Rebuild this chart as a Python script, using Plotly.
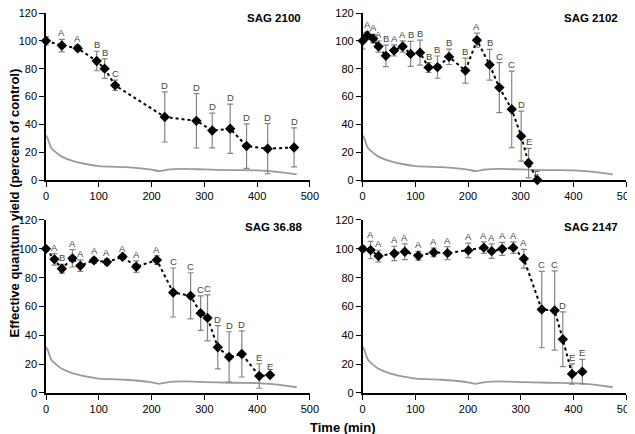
import plotly.graph_objects as go
from plotly.subplots import make_subplots

# light curve (grey line), same in every panel
light_t = [0, 3, 10, 20, 30, 50, 75, 100, 150, 175, 200, 215, 230, 260, 300, 350, 400, 430, 450, 475]
light_v = [32, 30, 23, 19.5, 16.8, 13.8, 11.5, 10, 9.2, 8.5, 7.4, 6.4, 7.4, 8, 7.6, 7.1, 6.9, 6.2, 5.3, 4]

# SAG 2100
t_2100 = [0, 30, 60, 96, 111, 131, 225, 285, 315, 349, 380, 420, 470]
y_2100 = [100, 96.6, 94.7, 85.5, 80, 68, 45.3, 42.5, 35.6, 36.8, 24.4, 22.5, 23.4]
e_2100 = [3, 4.5, 2, 7, 7, 3.7, 18, 19.5, 12.5, 17.7, 16, 18, 14]
l_2100 = ["", "A", "A", "B", "B", "C", "D", "D", "D", "D", "D", "D", "D"]

# SAG 2102
t_2102 = [0, 9, 20, 30, 44, 59.5, 76, 91, 109, 125, 142, 164, 195, 217, 241, 259.5, 283, 301, 315, 331.6]
y_2102 = [100, 103.9, 101.6, 95.9, 89.2, 93.1, 95.9, 90.6, 91.5, 80.9, 81.1, 88.5, 78.6, 100.5, 82.8, 66.4, 50.8, 31.5, 12.2, 0]
e_2102 = [6, 3, 3, 4, 7.7, 4, 4, 9, 9, 3.5, 8, 5.5, 9, 5, 11, 18, 27.5, 18, 10.6, 0]
l_2102 = ["", "A", "A", "A", "B", "A", "A", "B", "B", "B", "B", "B", "B", "A", "B", "C", "C", "D", "E", "F"]

# SAG 36.88
t_3688 = [0, 16, 30, 50, 65, 91, 115.5, 145, 171, 210, 241, 274, 293, 306, 325.5, 347, 371, 404, 424.5]
y_3688 = [100, 92.7, 86.2, 93.4, 88.3, 92, 90.8, 94.5, 87.6, 92.2, 69.7, 67.4, 55.4, 52.1, 31.7, 25, 27.1, 11.8, 12.5]
e_3688 = [1.5, 4, 3, 6, 4, 2, 2, 1.5, 4, 3, 17, 16, 12, 16, 15, 17.5, 16, 8.5, 1.5]
l_3688 = ["", "A", "B", "A", "A", "A", "A", "A", "A", "A", "C", "C", "C", "C", "D", "D", "D", "E", "E"]

# SAG 2147
t_2147 = [0, 15, 30, 60, 80, 105.7, 135, 161, 200.6, 230, 245, 265, 286, 306, 340, 364.5, 380, 397.5, 417]
y_2147 = [100, 99.1, 95, 96.8, 98, 95.2, 97.5, 97, 98.9, 100.8, 98.4, 100, 100.8, 93.1, 57.9, 57.2, 37.3, 13.2, 14.8]
e_2147 = [2, 6, 4, 5, 5.5, 3, 3, 4.5, 5, 4, 5, 4.5, 4, 6.5, 26.5, 27.5, 19, 7, 8.5]
l_2147 = ["", "A", "A", "A", "A", "A", "A", "A", "A", "A", "A", "A", "A", "A", "C", "C", "D", "E", "E"]

panels = [
    ("SAG 2100", t_2100, y_2100, e_2100, l_2100, 1, 1, 486, 116.5),
    ("SAG 2102", t_2102, y_2102, e_2102, l_2102, 1, 2, 488, 116.5),
    ("SAG 36.88", t_3688, y_3688, e_3688, l_3688, 2, 1, 488, 115.1),
    ("SAG 2147", t_2147, y_2147, e_2147, l_2147, 2, 2, 488, 115.1),
]

fig = make_subplots(rows=2, cols=2)

for name, t, y, e, lab, r, c, tx, ty in panels:
    ref = (r - 1) * 2 + c
    xr = "x" if ref == 1 else "x%d" % ref
    yr = "y" if ref == 1 else "y%d" % ref
    fig.add_trace(go.Scatter(x=light_t, y=light_v, mode="lines",
                             line=dict(color="#9a9a9a", width=1.8, shape="spline", smoothing=0.6),
                             showlegend=False), row=r, col=c)
    fig.add_trace(go.Scatter(x=t, y=y, mode="lines+markers",
                             line=dict(color="black", width=2, dash="dot"),
                             marker=dict(symbol="diamond", size=8, color="black"),
                             error_y=dict(type="data", array=e, color="#858585",
                                          thickness=1.2, width=3),
                             cliponaxis=False, showlegend=False), row=r, col=c)
    # significance letters above the error bars
    for tt, yy, ee, ll in zip(t, y, e, lab):
        if ll:
            fig.add_annotation(x=tt, y=yy + ee, text=ll, showarrow=False, xref=xr, yref=yr,
                               yanchor="bottom", yshift=-1,
                               font=dict(size=9.5, color="#444444"))
    fig.add_annotation(x=tx, y=ty, text="<b>" + name + "</b>", showarrow=False,
                       xanchor="right", yanchor="middle", xref=xr, yref=yr,
                       font=dict(size=11.5, color="black"))

axis_style = dict(showline=True, linecolor="black", linewidth=1.5, ticks="outside", ticklen=5,
                  tickcolor="black", showgrid=False, zeroline=False, automargin=False,
                  ticklabeloverflow="allow", tickfont=dict(size=11, color="black"))
fig.update_xaxes(range=[0, 500], dtick=100, **axis_style)
fig.update_yaxes(range=[0, 120], dtick=20, **axis_style)

# panel placement (page body adds an 8px offset)
fig.update_layout(xaxis=dict(domain=[0, 0.455]), xaxis3=dict(domain=[0, 0.455]),
                  xaxis2=dict(domain=[0.546, 1]), xaxis4=dict(domain=[0.546, 1]),
                  yaxis=dict(domain=[0.5605, 1]), yaxis2=dict(domain=[0.5605, 1]),
                  yaxis3=dict(domain=[0, 0.4553]), yaxis4=dict(domain=[0, 0.4553]))

fig.add_annotation(text="<b>Effective quantum yield (percent of control)</b>", x=-0.0545, y=0.5,
                   xref="paper", yref="paper", xanchor="center", yanchor="middle",
                   textangle=-90, showarrow=False, font=dict(size=13, color="black"))
fig.add_annotation(text="<b>Time (min)</b>", x=0.512, y=-0.0895, xref="paper", yref="paper",
                   xanchor="center", yanchor="middle", showarrow=False,
                   font=dict(size=13, color="black"))

fig.update_layout(width=627, height=426, margin=dict(l=38, r=9, t=5, b=41),
                  plot_bgcolor="white", paper_bgcolor="white",
                  font=dict(family="Liberation Sans, Arial, sans-serif"))

fig.write_html("out.html")
